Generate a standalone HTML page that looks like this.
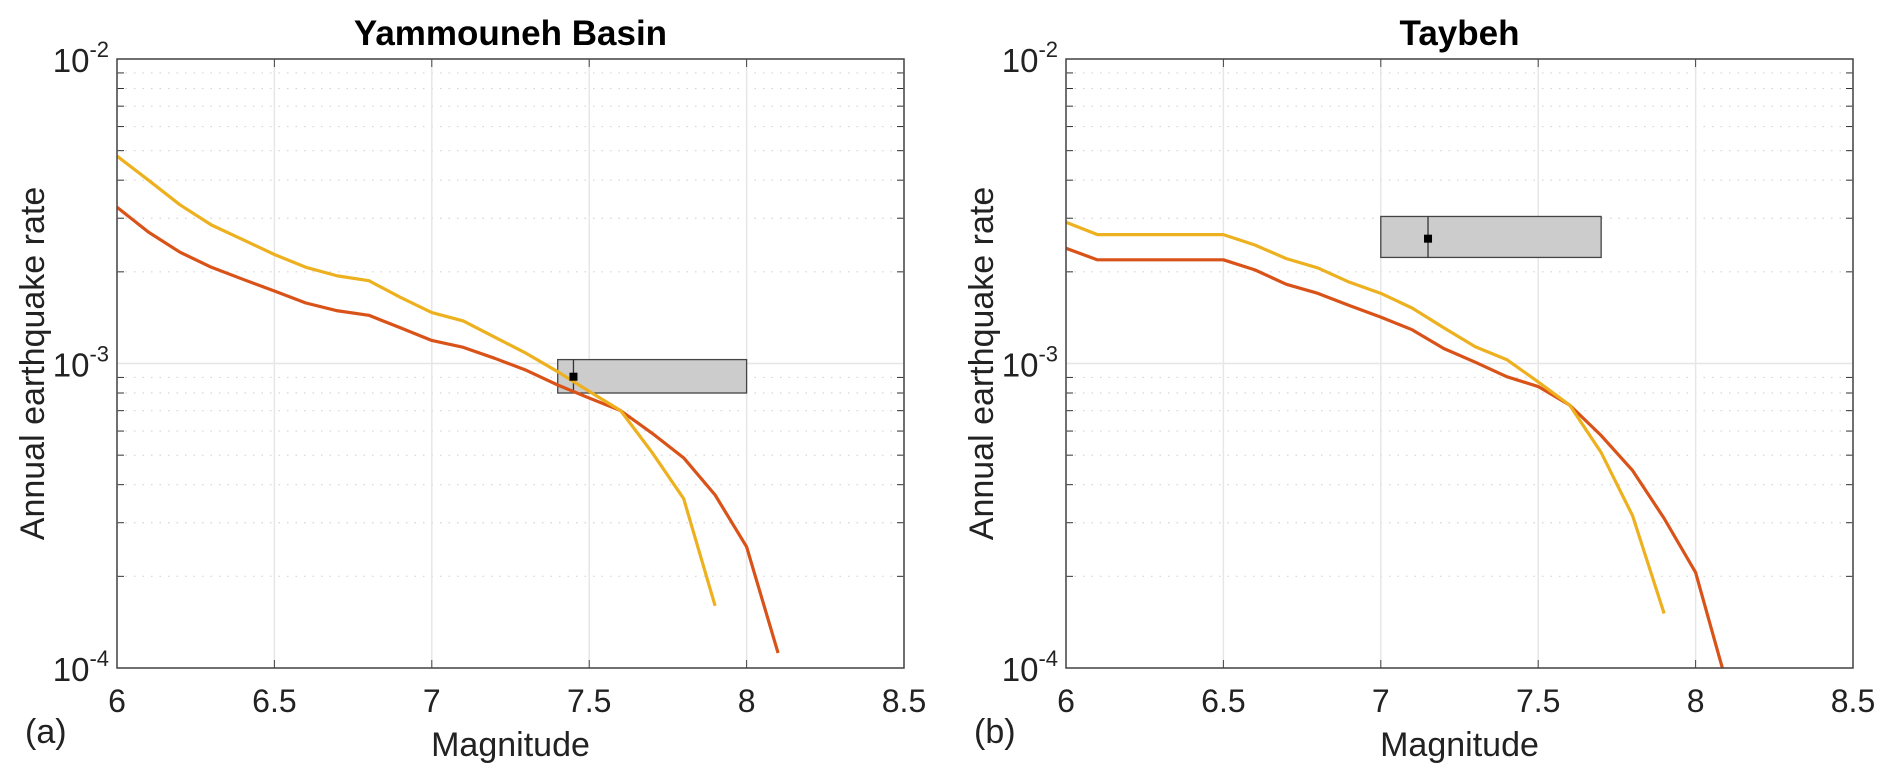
<!DOCTYPE html>
<html><head><meta charset="utf-8"><style>
html,body{margin:0;padding:0;background:#fff;}
svg{display:block;font-family:"Liberation Sans",Helvetica,Arial,sans-serif;}
</style></head><body>
<svg id="fig" width="1892" height="782" viewBox="0 0 1892 782"></svg>
<script>
const magnitudes=[6.0,6.1,6.2,6.3,6.4,6.5,6.6,6.7,6.8,6.9,7.0,7.1,7.2,7.3,7.4,7.5,7.6,7.7,7.8,7.9,8.0,8.1];
const yamYellow=[4.8e-3,4.0e-3,3.32e-3,2.85e-3,2.55e-3,2.28e-3,2.07e-3,1.94e-3,1.87e-3,1.65e-3,1.47e-3,1.38e-3,1.22e-3,1.08e-3,0.94e-3,0.81e-3,0.70e-3,0.51e-3,0.36e-3,0.16e-3];
const yamRed=[3.26e-3,2.70e-3,2.32e-3,2.07e-3,1.89e-3,1.73e-3,1.58e-3,1.49e-3,1.44e-3,1.31e-3,1.19e-3,1.13e-3,1.04e-3,0.95e-3,0.85e-3,0.77e-3,0.70e-3,0.59e-3,0.49e-3,0.37e-3,0.25e-3,0.112e-3];
const tayYellow=[2.91e-3,2.65e-3,2.65e-3,2.65e-3,2.65e-3,2.65e-3,2.45e-3,2.21e-3,2.06e-3,1.85e-3,1.70e-3,1.52e-3,1.31e-3,1.135e-3,1.03e-3,0.87e-3,0.73e-3,0.51e-3,0.316e-3,0.151e-3];
const tayRed=[2.39e-3,2.19e-3,2.19e-3,2.19e-3,2.19e-3,2.19e-3,2.03e-3,1.82e-3,1.70e-3,1.55e-3,1.42e-3,1.29e-3,1.12e-3,1.01e-3,0.905e-3,0.84e-3,0.73e-3,0.58e-3,0.445e-3,0.31e-3,0.206e-3,0.088e-3];
const yamBox=[7.4,8.0,0.80e-3,1.03e-3];
const yamObs=[7.45,0.905e-3];
const tayBox=[7.0,7.7,2.23e-3,3.04e-3];
const tayObs=[7.15,2.57e-3];
const xTicks=[6,6.5,7,7.5,8,8.5];
const xTickLabels=["6","6.5","7","7.5","8","8.5"];
const yDecades=[-4,-3,-2];

const NS="http://www.w3.org/2000/svg";
const svg=document.getElementById('fig');
function mk(tag,attrs,parent){const e=document.createElementNS(NS,tag);for(const k in attrs)e.setAttribute(k,attrs[k]);(parent||svg).appendChild(e);return e;}

function panel(L,key,title,letter,yel,red,box,obs){
  const R=L+787,T=59,B=668;
  const g=mk('g',{});
  
  
  const sx=v=>L+(v-6)/2.5*(R-L);
  const sy=v=>B-(Math.log10(v)+4)/2*(B-T);
  for(let d=-4;d<-2;d++){for(let m=2;m<=9;m++){const y=sy(m*Math.pow(10,d));
    const ln=mk('line',{x1:L,x2:R,y1:y,y2:y,stroke:'#d4d4d4','stroke-width':1.2,'stroke-dasharray':'1.5 7'},g);
    
    
    mk('line',{x1:L,x2:L+7,y1:y,y2:y,stroke:'#333','stroke-width':1},g);
    mk('line',{x1:R,x2:R-7,y1:y,y2:y,stroke:'#333','stroke-width':1},g);
  }}
  yDecades.forEach(d=>{const y=sy(Math.pow(10,d));
    const ln=mk('line',{x1:L,x2:R,y1:y,y2:y,stroke:'#e6e6e6','stroke-width':1.5},g);
    
    
    const t=mk('text',{x:L-8,y:y+13,'text-anchor':'end','font-size':33,fill:'#222'},g);
    t.innerHTML='10<tspan dy="-15" font-size="22">'+d+'</tspan>';
    
    
  });
  xTicks.forEach((v,i)=>{const x=sx(v);
    const ln=mk('line',{x1:x,x2:x,y1:T,y2:B,stroke:'#e6e6e6','stroke-width':1.5},g);
    
    
    const t=mk('text',{x:x,y:712,'text-anchor':'middle','font-size':32,fill:'#222'},g);
    t.textContent=xTickLabels[i];
    
    
  });
  const cid='clip'+key;
  const cp=mk('clipPath',{id:cid},g);mk('rect',{x:L,y:T,width:R-L,height:B-T},cp);
  const pts=arr=>arr.map((v,i)=>sx(magnitudes[i])+','+sy(v)).join(' ');
  const bx=mk('rect',{x:sx(box[0]),y:sy(box[3]),width:sx(box[1])-sx(box[0]),height:sy(box[2])-sy(box[3]),fill:'#cccccc',stroke:'#444','stroke-width':1.3},g);
  
  
  const ml=mk('line',{x1:sx(obs[0]),x2:sx(obs[0]),y1:sy(box[3]),y2:sy(box[2]),stroke:'#333','stroke-width':1.3},g);
  
  
  const pr=mk('polyline',{points:pts(red),fill:'none',stroke:'#D95319','stroke-width':3.2,'clip-path':'url(#'+cid+')','stroke-linejoin':'round'},g);
  
  
  const py=mk('polyline',{points:pts(yel),fill:'none',stroke:'#EDB120','stroke-width':3.2,'clip-path':'url(#'+cid+')','stroke-linejoin':'round'},g);
  
  
  const dot=mk('rect',{x:sx(obs[0])-4,y:sy(obs[1])-4,width:8,height:8,fill:'#000'},g);
  
  
  const ax=mk('rect',{x:L,y:T,width:R-L,height:B-T,fill:'none',stroke:'#444','stroke-width':1.5},g);
  
  
  xTicks.forEach(v=>{const x=sx(v);mk('line',{x1:x,x2:x,y1:B,y2:B-8,stroke:'#444','stroke-width':1},g);mk('line',{x1:x,x2:x,y1:T,y2:T+8,stroke:'#444','stroke-width':1},g);});
  const tt=mk('text',{x:(L+R)/2,y:45,'text-anchor':'middle','font-size':35,'font-weight':'bold',fill:'#000'},g);
  tt.textContent=title;
  
  
  const xl=mk('text',{x:(L+R)/2,y:756,'text-anchor':'middle','font-size':34,fill:'#222'},g);
  xl.textContent='Magnitude';
  
  
  const yl=mk('text',{x:0,y:0,'text-anchor':'middle','font-size':34,fill:'#222',transform:'translate('+(L-73)+','+((T+B)/2)+') rotate(-90)'},g);
  yl.textContent='Annual earthquake rate';
  
  
  const lt=mk('text',{x:L-92,y:743,'font-size':34,fill:'#222'},g);
  lt.textContent=letter;
  
  
}
panel(117,'yammouneh','Yammouneh Basin','(a)',yamYellow,yamRed,yamBox,yamObs);
panel(1066,'taybeh','Taybeh','(b)',tayYellow,tayRed,tayBox,tayObs);
</script>
</body></html>
